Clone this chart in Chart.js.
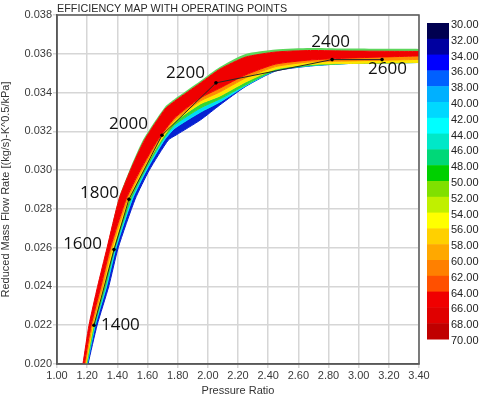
<!DOCTYPE html>
<html>
<head>
<meta charset="utf-8">
<script src="https://cdn.jsdelivr.net/npm/chart.js@4.4.1/dist/chart.umd.min.js"></script>
<style>
  html, body { margin: 0; padding: 0; background: #fff; }
</style>
</head>
<body>
<canvas id="map" width="480" height="396"></canvas>
<script>
    // efficiency legend (top to bottom)
    const legendValues = [30, 32, 34, 36, 38, 40, 42, 44, 46, 48, 50, 52, 54, 56, 58, 60, 62, 64, 66, 68, 70];
    const legendColors = ["#000050", "#0000a0", "#0000ff", "#0060ff", "#00b0ff", "#00d8ff", "#00ffff", "#00e8c8", "#00d878", "#00d000",
        "#80e000", "#c0f000", "#ffff00", "#ffd000", "#ffa800", "#ff8000", "#ff5000", "#f00000", "#e00000", "#c00000"];

    // contour boundaries, from the upper-left edge to the lower-right edge
    const edgeTop = [[1.14, 0.0184], [1.172, 0.0200], [1.212, 0.0220], [1.269, 0.0240], [1.332, 0.0260], [1.408, 0.0285], [1.481, 0.0300],
        [1.570, 0.03155], [1.716, 0.03326], [1.78, 0.03367], [1.95, 0.0346], [2.08, 0.03532], [2.25, 0.03599], [2.45, 0.03622], [2.68, 0.0363], [2.94, 0.03627], [3.40, 0.03625]];
    const fringeEnd = [[1.14, 0.0184], [1.172, 0.0200], [1.212, 0.0220], [1.269, 0.0240], [1.332, 0.0260], [1.411, 0.0285], [1.487, 0.0300],
        [1.580, 0.03155], [1.716, 0.03315], [1.78, 0.03356], [1.95, 0.03449], [2.08, 0.03521], [2.25, 0.03583], [2.45, 0.03609], [2.68, 0.03617], [2.94, 0.03614], [3.40, 0.03612]];
    const redEnd = [[1.14, 0.0180], [1.182, 0.0200], [1.226, 0.0220], [1.291, 0.0240], [1.354, 0.0260], [1.458, 0.0285], [1.552, 0.0300],
        [1.668, 0.03155], [1.78, 0.03269], [1.95, 0.03372], [2.08, 0.03423], [2.25, 0.03491], [2.45, 0.03547], [2.68, 0.03568], [2.94, 0.03578], [3.40, 0.03589]];
    const orangeEnd = [[1.14, 0.0179], [1.188, 0.0200], [1.235, 0.0220], [1.302, 0.0240], [1.365, 0.0260], [1.469, 0.0285], [1.563, 0.0300],
        [1.679, 0.03155], [1.78, 0.03258], [1.95, 0.03356], [2.08, 0.03403], [2.25, 0.03475], [2.45, 0.03534], [2.68, 0.03558], [2.94, 0.03563], [3.40, 0.03571]];
    const yellowEnd = [[1.14, 0.0178], [1.193, 0.0200], [1.242, 0.0220], [1.312, 0.0240], [1.375, 0.0260], [1.480, 0.0285], [1.573, 0.0300],
        [1.690, 0.03155], [1.78, 0.03248], [1.95, 0.03341], [2.08, 0.03382], [2.25, 0.03454], [2.45, 0.03521], [2.68, 0.03545], [2.94, 0.0355], [3.40, 0.03555]];
    const greenEnd = [[1.14, 0.0177], [1.197, 0.0200], [1.248, 0.0220], [1.321, 0.0240], [1.384, 0.0260], [1.490, 0.0285], [1.584, 0.0300],
        [1.700, 0.03155], [1.78, 0.03233], [1.95, 0.0332], [2.08, 0.03367], [2.25, 0.03439], [2.45, 0.03516], [2.68, 0.0354], [2.94, 0.0355], [3.40, 0.03555]];
    const cyanEnd = [[1.14, 0.0176], [1.201, 0.0200], [1.254, 0.0220], [1.329, 0.0240], [1.392, 0.0260], [1.500, 0.0285], [1.594, 0.0300],
        [1.712, 0.03155], [1.78, 0.03215], [1.95, 0.03298], [2.08, 0.03351], [2.25, 0.03434], [2.45, 0.03514], [2.68, 0.03538], [2.94, 0.0355], [3.40, 0.03555]];
    const edgeBottom = [[1.14, 0.0175], [1.206, 0.0200], [1.266, 0.0220], [1.343, 0.0240], [1.406, 0.0260], [1.518, 0.0285], [1.612, 0.0300],
        [1.738, 0.03155], [1.79, 0.03181], [1.95, 0.03258], [2.08, 0.03336], [2.25, 0.03431], [2.45, 0.03511], [2.68, 0.03537], [2.94, 0.0355], [3.40, 0.03555]];

    // operating points
    const speeds = [1400, 1600, 1800, 2000, 2200, 2400, 2600];
    const opRatio = [1.245, 1.378, 1.477, 1.696, 2.054, 2.824, 3.155];
    const opFlow = [0.0220, 0.0259, 0.0285, 0.0318, 0.0345, 0.0357, 0.0357];

    const contours = [edgeTop, fringeEnd, redEnd, orangeEnd, yellowEnd, greenEnd, cyanEnd, edgeBottom];
    const bandFill = [null, "#5cd65c", "#f00000", "#ff8c00", "#ffe500", "#33d633", "#00dcf5", "#0620d2"];
    const bandLine = [null, "#f00000", "#f00000", "#ff8c00", "#ffe500", "#33d633", "#00dcf5", "#0620d2"];

    // where each speed label sits relative to its point: dx, dy, align
    const labelPlace = [[7, 0, "left"], [-12, -5, "right"], [-10, -6, "right"], [-14, -11, "right"],
        [-11, -10, "right"], [-1.5, -17, "center"], [5.5, 9.5, "center"]];

    const tickFont = { family: "Liberation Sans", size: 11 };

    const bandSets = contours.map((pts, i) => ({
        data: pts.map(([x, y]) => ({ x, y })),
        backgroundColor: bandFill[i] || "transparent",
        borderColor: bandLine[i] || "transparent",
        borderWidth: i === 0 ? 0 : 1,
        fill: i === 0 ? false : "-1",
        pointRadius: 0,
        tension: 0.2,
        order: 1
    }));

    const opSet = {
        data: opRatio.map((x, i) => ({ x, y: opFlow[i] })),
        borderColor: "#262626",
        borderWidth: 1,
        pointRadius: 1.8,
        pointBackgroundColor: "#000",
        pointBorderWidth: 0,
        fill: false,
        tension: 0,
        order: 0
    };

    const decor = {
        id: "decor",
        afterDatasetsDraw(chart) {
            const { ctx, chartArea: a, scales: { x, y } } = chart;
            ctx.save();
            ctx.strokeStyle = "#5a5a5a";
            ctx.lineWidth = 1.5;
            ctx.strokeRect(a.left, a.top, a.right - a.left, a.bottom - a.top);

            ctx.font = '17px "Open Sans"';
            ctx.fillStyle = "#111";
            ctx.textBaseline = "middle";
            speeds.forEach((s, i) => {
                const [dx, dy, align] = labelPlace[i];
                ctx.textAlign = align;
                ctx.fillText(String(s), x.getPixelForValue(opRatio[i]) + dx, y.getPixelForValue(opFlow[i]) + dy);
            });
            ctx.restore();
        },
        afterDraw(chart) {
            const { ctx, chartArea: a } = chart;
            ctx.save();
            ctx.font = '10.8px "Liberation Sans"';
            ctx.fillStyle = "#2a2a2a";
            ctx.textAlign = "left";
            ctx.textBaseline = "alphabetic";
            ctx.fillText("EFFICIENCY MAP WITH OPERATING POINTS", a.left, 12);

            // colour legend
            const barLeft = a.right + 8;
            const barTop = 23;
            const step = 15.8;
            legendColors.forEach((c, i) => {
                ctx.fillStyle = c;
                ctx.fillRect(barLeft, barTop + i * step, 22, step + 0.5);
            });
            ctx.font = '11px "Liberation Sans"';
            ctx.fillStyle = "#222";
            ctx.textBaseline = "middle";
            legendValues.forEach((v, i) => {
                ctx.fillText(v.toFixed(2), barLeft + 24, barTop + 2 + i * step);
            });
            ctx.restore();
        }
    };

    new Chart(document.getElementById("map"), {
        type: "line",
        data: { datasets: [...bandSets, opSet] },
        options: {
            responsive: false,
            animation: false,
            events: [],
            layout: { padding: { top: 15, right: 61, bottom: 0, left: 0 } },
            plugins: {
                legend: { display: false },
                tooltip: { enabled: false }
            },
            scales: {
                x: {
                    type: "linear",
                    min: 1,
                    max: 3.4,
                    ticks: { stepSize: 0.2, callback: v => v.toFixed(2), font: tickFont, color: "#3a3a3a", padding: 1, maxRotation: 0, autoSkip: false },
                    grid: { color: "#d6d6d6", lineWidth: 1.5, tickLength: 4 },
                    border: { color: "#555", width: 1.5 },
                    title: { display: true, text: "Pressure Ratio", font: { family: "Liberation Sans", size: 11, lineHeight: 1 }, color: "#333", padding: { top: 0, bottom: 0 } },
                    afterFit: s => { s.height = 32; }
                },
                y: {
                    type: "linear",
                    min: 0.02,
                    max: 0.038,
                    ticks: { stepSize: 0.002, callback: v => v.toFixed(3), font: tickFont, color: "#3a3a3a", padding: 1 },
                    grid: { color: "#d6d6d6", lineWidth: 1.5, tickLength: 4 },
                    border: { color: "#555", width: 1.5 },
                    title: { display: true, text: "Reduced Mass Flow Rate [(kg/s)-K^0.5/kPa]", font: { family: "Liberation Sans", size: 11, lineHeight: 1 }, color: "#333", padding: 0 },
                    afterFit: s => { s.width = 57; }
                }
            }
        },
        plugins: [decor]
    });
</script>
</body>
</html>
